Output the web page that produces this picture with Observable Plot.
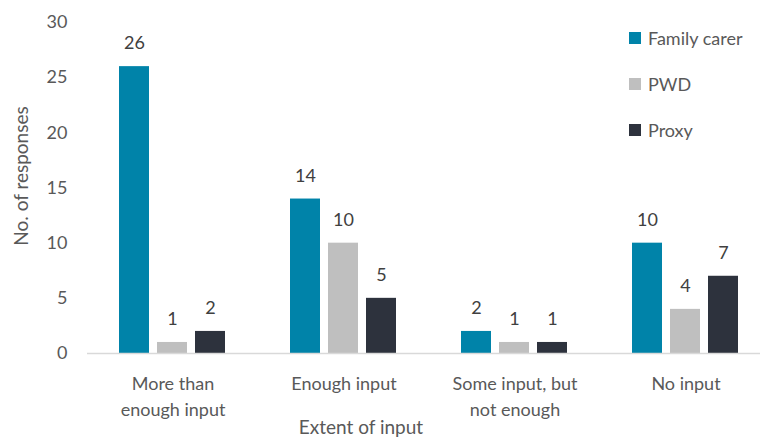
<!DOCTYPE html>
<html>
<head>
<meta charset="utf-8">
<script src="https://cdn.jsdelivr.net/npm/d3@7"></script>
<script src="https://cdn.jsdelivr.net/npm/@observablehq/plot@0.6"></script>
<style>
  html, body { margin: 0; padding: 0; background: #fff; }
  #wrap { position: relative; width: 760px; height: 441px; font-family: Lato, "Open Sans", sans-serif; color: #595959; }
  .legend { position: absolute; left: 629px; top: 0; font-size: 18px; }
  .legend .row { position: absolute; left: 0; white-space: nowrap; display: flex; align-items: center; height: 20px; }
  .legend .sw { width: 12px; height: 12px; margin-right: 7px; }
  .ytitle { position: absolute; left: 20px; top: 176px; transform: translate(-50%, -50%) rotate(-90deg); font-size: 19px; white-space: nowrap; }
  .xtitle { position: absolute; left: 361px; top: 426px; transform: translate(-50%, -50%); font-size: 19px; white-space: nowrap; }
</style>
</head>
<body>
<div id="wrap"></div>
<script>
const categories = ["More than\nenough input", "Enough input", "Some input, but\nnot enough", "No input"];
const series = ["Family carer", "PWD", "Proxy"];
const familyCarer = [26, 14, 2, 10];
const pwd = [1, 10, 1, 4];
const proxy = [2, 5, 1, 7];
const colors = ["#0083A9", "#BFBFBF", "#2D323D"];
const yTicks = [0, 5, 10, 15, 20, 25, 30];

const values = [familyCarer, pwd, proxy];
const data = [];
categories.forEach((c, i) => series.forEach((s, j) => data.push({cat: c, series: s, value: values[j][i]})));

const chart = Plot.plot({
  width: 760,
  height: 441,
  marginTop: 22,
  marginBottom: 88,
  marginLeft: 87,
  marginRight: 0,
  style: {fontFamily: "Lato, 'Open Sans', sans-serif", fontSize: "18px", color: "#595959", background: "transparent"},
  fx: {domain: categories, range: [87, 771], padding: 0},
  x: {domain: series, paddingInner: 0.21, paddingOuter: 0.855, axis: null},
  y: {domain: [0, 30]},
  color: {domain: series, range: colors},
  marks: [
    Plot.axisY({ticks: yTicks, tickSize: 0, tickPadding: 20, label: null, fill: "#595959"}),
    Plot.axisFx({anchor: "bottom", tickSize: 0, tickPadding: 18, label: null, lineHeight: 1.45, fill: "#595959"}),
    Plot.barY(data, {fx: "cat", x: "series", y: "value", fill: "series"}),
    Plot.ruleY([0], {stroke: "#D9D9D9", strokeWidth: 1.5}),
    Plot.text(data, {fx: "cat", x: "series", y: "value", text: d => String(d.value), dy: -23, fill: "#404040", fontSize: 18})
  ]
});

const wrap = document.getElementById("wrap");
wrap.appendChild(chart);

const legend = document.createElement("div");
legend.className = "legend";
const rowY = [28, 74, 120];
series.forEach((s, i) => {
  const row = document.createElement("div");
  row.className = "row";
  row.style.top = rowY[i] + "px";
  const sw = document.createElement("span");
  sw.className = "sw";
  sw.style.background = colors[i];
  const t = document.createElement("span");
  t.textContent = s;
  row.appendChild(sw); row.appendChild(t);
  legend.appendChild(row);
});
wrap.appendChild(legend);

const yt = document.createElement("div");
yt.className = "ytitle"; yt.textContent = "No. of responses";
wrap.appendChild(yt);
const xt = document.createElement("div");
xt.className = "xtitle"; xt.textContent = "Extent of input";
wrap.appendChild(xt);
</script>
</body>
</html>
